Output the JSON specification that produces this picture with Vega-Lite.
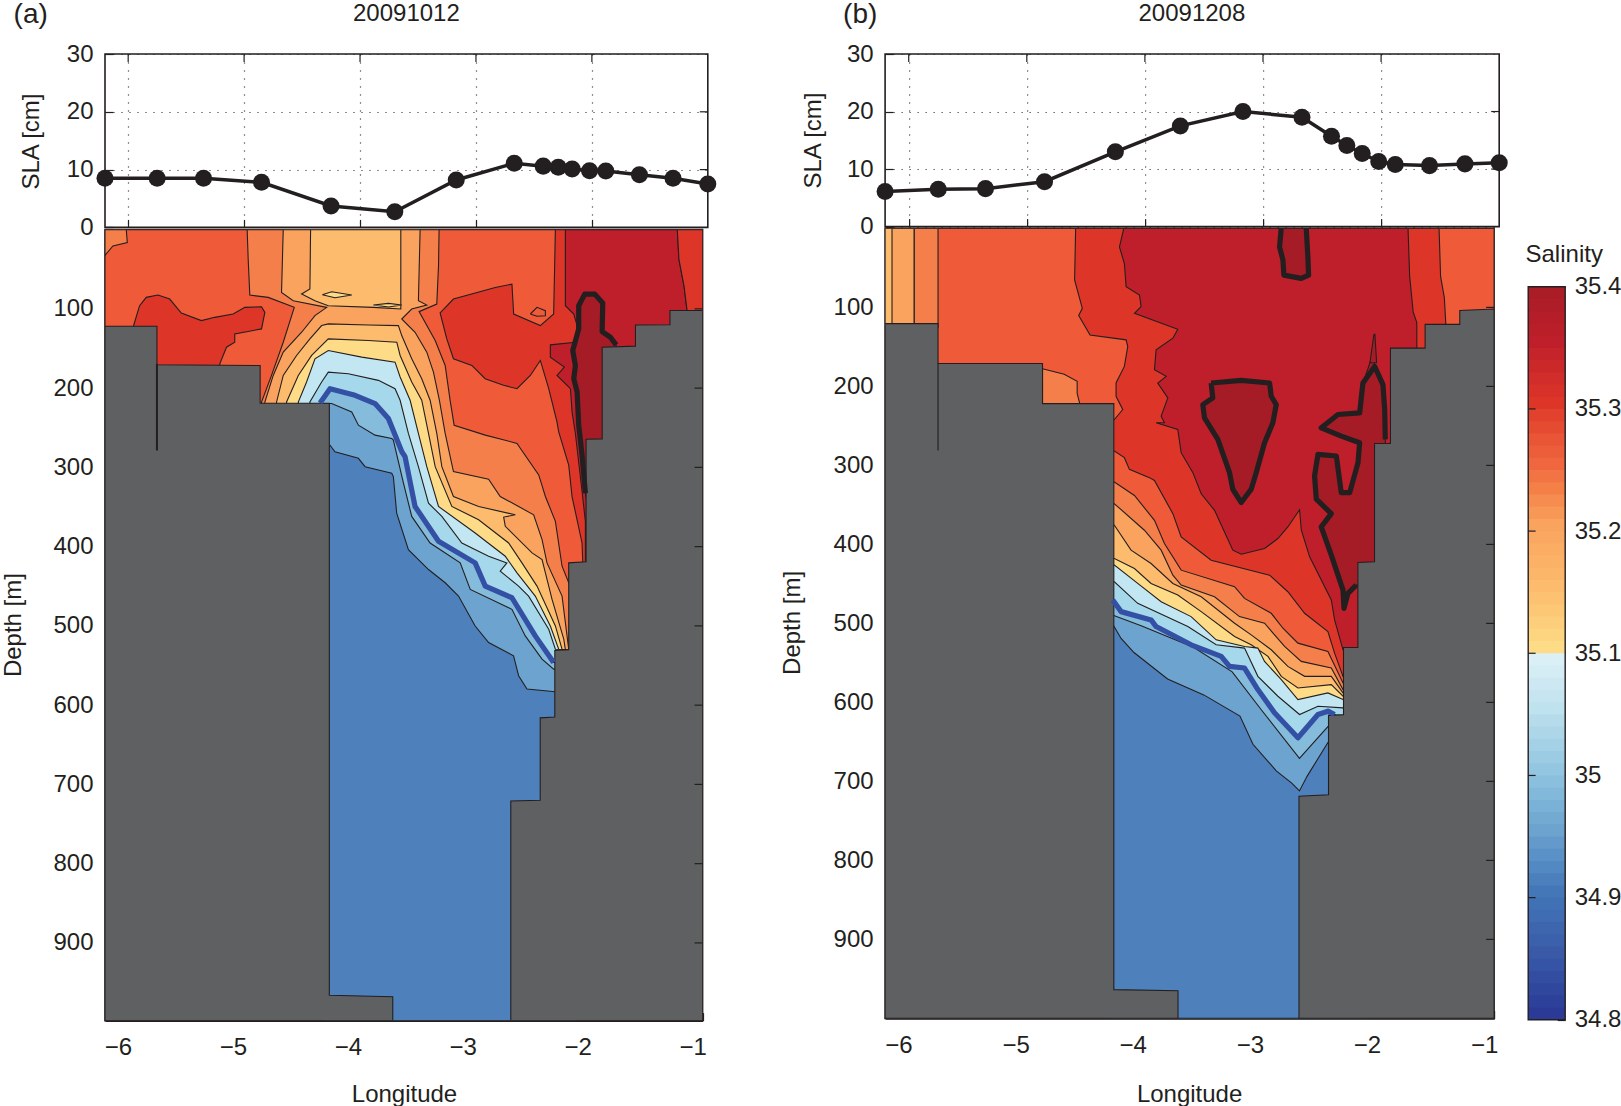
{
"$schema":"https://vega.github.io/schema/vega-lite/v6.json",
"padding":0,
"background":"white",
"bounds":"flush",
"spacing":780.1,
"config":{
 "view":{"stroke":null},
 "font":"Liberation Sans",
 "text":{"font":"Liberation Sans","color":"#231f20"},
 "axis":{"labelFont":"Liberation Sans","titleFont":"Liberation Sans","labelFontSize":24,"titleFontSize":24,"titleFontWeight":"normal","labelColor":"#231f20","titleColor":"#231f20","tickColor":"#231f20","domainColor":"#231f20","tickSize":-8,"tickWidth":1.2,"domainWidth":1.6,"grid":false,"labelOverlap":false,"labelBound":false,"labelFlush":false,"zindex":1,"titleBaseline":"middle","titleAlign":"center"}
},
"datasets":{
"depth_ticks":[{"depth":100},{"depth":200},{"depth":300},{"depth":400},{"depth":500},{"depth":600},{"depth":700},{"depth":800},{"depth":900}],
"sla_ticks":[{"sla":10},{"sla":20}],
"lon_ticks":[{"lon":-6},{"lon":-5},{"lon":-4},{"lon":-3},{"lon":-2}],
"bar_ticks":[{"s":34.9},{"s":35},{"s":35.1},{"s":35.2},{"s":35.3}],
"sla_a":[{"lon":-6.2,"sla":8.5},{"lon":-5.75,"sla":8.5},{"lon":-5.35,"sla":8.5},{"lon":-4.85,"sla":7.8},{"lon":-4.25,"sla":3.7},{"lon":-3.7,"sla":2.7},{"lon":-3.17,"sla":8.2},{"lon":-2.67,"sla":11.1},{"lon":-2.42,"sla":10.6},{"lon":-2.29,"sla":10.4},{"lon":-2.17,"sla":10.1},{"lon":-2.02,"sla":9.8},{"lon":-1.88,"sla":9.75},{"lon":-1.59,"sla":9.1},{"lon":-1.3,"sla":8.5},{"lon":-1,"sla":7.5}],
"sla_b":[{"lon":-6.2,"sla":6.1},{"lon":-5.75,"sla":6.5},{"lon":-5.35,"sla":6.6},{"lon":-4.85,"sla":7.8},{"lon":-4.25,"sla":13},{"lon":-3.7,"sla":17.5},{"lon":-3.17,"sla":20},{"lon":-2.67,"sla":19},{"lon":-2.42,"sla":15.7},{"lon":-2.29,"sla":14.1},{"lon":-2.16,"sla":12.7},{"lon":-2.02,"sla":11.3},{"lon":-1.88,"sla":10.8},{"lon":-1.59,"sla":10.6},{"lon":-1.29,"sla":10.9},{"lon":-1,"sla":11.1}],
"sec_a":[
{"poly":"box","lon":-6.2,"depth":0},{"poly":"box","lon":-1,"depth":0},{"poly":"box","lon":-1,"depth":998},{"poly":"box","lon":-6.2,"depth":998},{"poly":"box","lon":-6.2,"depth":0},
{"poly":"corner","lon":-6.2,"depth":0},{"poly":"corner","lon":-6.015,"depth":0},{"poly":"corner","lon":-6.006,"depth":16.4},{"poly":"corner","lon":-6.131,"depth":20.6},{"poly":"corner","lon":-6.2,"depth":32.4},{"poly":"corner","lon":-6.2,"depth":0},
{"poly":"blob1","lon":-5.951,"depth":121},{"poly":"blob1","lon":-5.899,"depth":96},{"poly":"blob1","lon":-5.841,"depth":85.5},{"poly":"blob1","lon":-5.739,"depth":82.6},{"poly":"blob1","lon":-5.637,"depth":87.6},{"poly":"blob1","lon":-5.536,"depth":105.2},{"poly":"blob1","lon":-5.361,"depth":114.8},{"poly":"blob1","lon":-5.245,"depth":110.7},{"poly":"blob1","lon":-5.085,"depth":106.5},{"poly":"blob1","lon":-4.983,"depth":98.1},{"poly":"blob1","lon":-4.838,"depth":97.3},{"poly":"blob1","lon":-4.809,"depth":104.4},{"poly":"blob1","lon":-4.838,"depth":125.3},{"poly":"blob1","lon":-5.071,"depth":131.6},{"poly":"blob1","lon":-5.071,"depth":142.1},{"poly":"blob1","lon":-5.143,"depth":148.4},{"poly":"blob1","lon":-5.201,"depth":169.3},{"poly":"blob1","lon":-5.201,"depth":180},{"poly":"blob1","lon":-5.951,"depth":180},{"poly":"blob1","lon":-5.951,"depth":121},
{"poly":"dd2","lon":-2.281,"depth":0},{"poly":"dd2","lon":-2.296,"depth":106.5},{"poly":"dd2","lon":-2.412,"depth":121.1},{"poly":"dd2","lon":-2.644,"depth":106.5},{"poly":"dd2","lon":-2.659,"depth":68.8},{"poly":"dd2","lon":-2.804,"depth":73},{"poly":"dd2","lon":-3.168,"depth":87.6},{"poly":"dd2","lon":-3.284,"depth":105.2},{"poly":"dd2","lon":-3.226,"depth":137.9},{"poly":"dd2","lon":-3.168,"depth":163},{"poly":"dd2","lon":-3.008,"depth":171.4},{"poly":"dd2","lon":-2.892,"depth":188.1},{"poly":"dd2","lon":-2.732,"depth":196.5},{"poly":"dd2","lon":-2.615,"depth":200.7},{"poly":"dd2","lon":-2.499,"depth":184},{"poly":"dd2","lon":-2.412,"depth":165.1},{"poly":"dd2","lon":-2.339,"depth":200.7},{"poly":"dd2","lon":-2.267,"depth":242.6},{"poly":"dd2","lon":-2.252,"depth":255.2},{"poly":"dd2","lon":-2.165,"depth":297},{"poly":"dd2","lon":-2.136,"depth":336.8},{"poly":"dd2","lon":-2.049,"depth":395.4},{"poly":"dd2","lon":-2.043,"depth":418.4},{"poly":"dd2","lon":-2.043,"depth":425},{"poly":"dd2","lon":-1.9,"depth":425},{"poly":"dd2","lon":-1.9,"depth":0},{"poly":"dd2","lon":-2.281,"depth":0},
{"poly":"spot1","lon":-2.499,"depth":106.5},{"poly":"spot1","lon":-2.441,"depth":98.1},{"poly":"spot1","lon":-2.368,"depth":102.3},{"poly":"spot1","lon":-2.368,"depth":108.6},{"poly":"spot1","lon":-2.441,"depth":109.4},{"poly":"spot1","lon":-2.499,"depth":106.5},
{"poly":"bf1","lon":-2.194,"depth":0},{"poly":"bf1","lon":-2.194,"depth":96},{"poly":"bf1","lon":-2.121,"depth":106.5},{"poly":"bf1","lon":-2.092,"depth":121.1},{"poly":"bf1","lon":-2.107,"depth":142.1},{"poly":"bf1","lon":-2.325,"depth":145.4},{"poly":"bf1","lon":-2.325,"depth":161},{"poly":"bf1","lon":-2.203,"depth":173.5},{"poly":"bf1","lon":-2.267,"depth":184},{"poly":"bf1","lon":-2.15,"depth":200.7},{"poly":"bf1","lon":-2.136,"depth":230},{"poly":"bf1","lon":-2.107,"depth":257.3},{"poly":"bf1","lon":-2.049,"depth":330.5},{"poly":"bf1","lon":-2.02,"depth":368.2},{"poly":"bf1","lon":-2.02,"depth":425},{"poly":"bf1","lon":-1.133,"depth":425},{"poly":"bf1","lon":-1.133,"depth":104.4},{"poly":"bf1","lon":-1.162,"depth":70.9},{"poly":"bf1","lon":-1.206,"depth":37.4},{"poly":"bf1","lon":-1.22,"depth":0},{"poly":"bf1","lon":-2.194,"depth":0},
{"poly":"dd3","lon":-1.22,"depth":0},{"poly":"dd3","lon":-1.206,"depth":37.4},{"poly":"dd3","lon":-1.162,"depth":70.9},{"poly":"dd3","lon":-1.133,"depth":104.4},{"poly":"dd3","lon":-1,"depth":104.4},{"poly":"dd3","lon":-1,"depth":0},{"poly":"dd3","lon":-1.22,"depth":0},
{"poly":"dark1","lon":-2.026,"depth":81.4},{"poly":"dark1","lon":-1.938,"depth":81.4},{"poly":"dark1","lon":-1.869,"depth":92.7},{"poly":"dark1","lon":-1.874,"depth":128.7},{"poly":"dark1","lon":-1.802,"depth":135.8},{"poly":"dark1","lon":-1.752,"depth":145.4},{"poly":"dark1","lon":-1.752,"depth":150},{"poly":"dark1","lon":-1.86,"depth":150},{"poly":"dark1","lon":-1.86,"depth":270},{"poly":"dark1","lon":-2.005,"depth":270},{"poly":"dark1","lon":-2.005,"depth":345},{"poly":"dark1","lon":-2.02,"depth":332.6},{"poly":"dark1","lon":-2.049,"depth":284.5},{"poly":"dark1","lon":-2.078,"depth":246.8},{"poly":"dark1","lon":-2.092,"depth":204.9},{"poly":"dark1","lon":-2.121,"depth":188.1},{"poly":"dark1","lon":-2.107,"depth":171.4},{"poly":"dark1","lon":-2.13,"depth":152.5},{"poly":"dark1","lon":-2.078,"depth":125.3},{"poly":"dark1","lon":-2.078,"depth":96},{"poly":"dark1","lon":-2.026,"depth":81.4},
{"poly":"p1","lon":-4.963,"depth":0},{"poly":"p1","lon":-4.954,"depth":37.4},{"poly":"p1","lon":-4.94,"depth":82.6},{"poly":"p1","lon":-4.78,"depth":85.5},{"poly":"p1","lon":-4.553,"depth":98.1},{"poly":"p1","lon":-4.649,"depth":142.1},{"poly":"p1","lon":-4.751,"depth":184},{"poly":"p1","lon":-4.838,"depth":217.5},{"poly":"p1","lon":-4.838,"depth":225},{"poly":"p1","lon":-4.3,"depth":225},{"poly":"p1","lon":-4.3,"depth":998},{"poly":"p1","lon":-2.1,"depth":998},{"poly":"p1","lon":-2.1,"depth":445.6},{"poly":"p1","lon":-2.165,"depth":445.6},{"poly":"p1","lon":-2.223,"depth":424.7},{"poly":"p1","lon":-2.281,"depth":368.1},{"poly":"p1","lon":-2.368,"depth":336.7},{"poly":"p1","lon":-2.426,"depth":309.5},{"poly":"p1","lon":-2.615,"depth":269.7},{"poly":"p1","lon":-2.891,"depth":259.3},{"poly":"p1","lon":-3.162,"depth":246.8},{"poly":"p1","lon":-3.197,"depth":215.4},{"poly":"p1","lon":-3.24,"depth":171.4},{"poly":"p1","lon":-3.327,"depth":140},{"poly":"p1","lon":-3.467,"depth":103.5},{"poly":"p1","lon":-3.313,"depth":94},{"poly":"p1","lon":-3.298,"depth":45.8},{"poly":"p1","lon":-3.293,"depth":0},{"poly":"p1","lon":-4.963,"depth":0},
{"poly":"p2","lon":-4.649,"depth":0},{"poly":"p2","lon":-4.664,"depth":79.3},{"poly":"p2","lon":-4.562,"depth":89.7},{"poly":"p2","lon":-4.271,"depth":98.1},{"poly":"p2","lon":-4.373,"depth":108.6},{"poly":"p2","lon":-4.489,"depth":129.5},{"poly":"p2","lon":-4.649,"depth":154.6},{"poly":"p2","lon":-4.736,"depth":184},{"poly":"p2","lon":-4.809,"depth":217.5},{"poly":"p2","lon":-4.809,"depth":225},{"poly":"p2","lon":-4.3,"depth":225},{"poly":"p2","lon":-4.3,"depth":998},{"poly":"p2","lon":-2.1,"depth":998},{"poly":"p2","lon":-2.1,"depth":529.4},{"poly":"p2","lon":-2.165,"depth":529.4},{"poly":"p2","lon":-2.223,"depth":462.4},{"poly":"p2","lon":-2.354,"depth":420.5},{"poly":"p2","lon":-2.397,"depth":391.2},{"poly":"p2","lon":-2.47,"depth":359.8},{"poly":"p2","lon":-2.761,"depth":336.7},{"poly":"p2","lon":-2.862,"depth":315},{"poly":"p2","lon":-3.168,"depth":305.4},{"poly":"p2","lon":-3.24,"depth":257.2},{"poly":"p2","lon":-3.29,"depth":215.4},{"poly":"p2","lon":-3.342,"depth":179.8},{"poly":"p2","lon":-3.4,"depth":154.6},{"poly":"p2","lon":-3.502,"depth":129.5},{"poly":"p2","lon":-3.618,"depth":112.8},{"poly":"p2","lon":-3.531,"depth":100.2},{"poly":"p2","lon":-3.4,"depth":95.2},{"poly":"p2","lon":-3.473,"depth":89.7},{"poly":"p2","lon":-3.458,"depth":0},{"poly":"p2","lon":-4.649,"depth":0},
{"poly":"col","lon":-4.411,"depth":0},{"poly":"col","lon":-4.417,"depth":75},{"poly":"col","lon":-4.489,"depth":81.3},{"poly":"col","lon":-4.373,"depth":89.7},{"poly":"col","lon":-4.257,"depth":96},{"poly":"col","lon":-3.865,"depth":98.1},{"poly":"col","lon":-3.626,"depth":100.2},{"poly":"col","lon":-3.626,"depth":0},{"poly":"col","lon":-4.411,"depth":0},
{"poly":"ys1","lon":-4.309,"depth":82.2},{"poly":"ys1","lon":-4.228,"depth":78.4},{"poly":"ys1","lon":-4.053,"depth":82.6},{"poly":"ys1","lon":-4.199,"depth":86},{"poly":"ys1","lon":-4.309,"depth":82.2},
{"poly":"ys2","lon":-3.865,"depth":95.2},{"poly":"ys2","lon":-3.733,"depth":93.1},{"poly":"ys2","lon":-3.618,"depth":95.2},{"poly":"ys2","lon":-3.733,"depth":97.7},{"poly":"ys2","lon":-3.865,"depth":95.2},
{"poly":"p3","lon":-4.707,"depth":225},{"poly":"p3","lon":-4.707,"depth":217.5},{"poly":"p3","lon":-4.649,"depth":184},{"poly":"p3","lon":-4.533,"depth":158.8},{"poly":"p3","lon":-4.417,"depth":137.9},{"poly":"p3","lon":-4.315,"depth":121.1},{"poly":"p3","lon":-4.257,"depth":119},{"poly":"p3","lon":-3.908,"depth":120.3},{"poly":"p3","lon":-3.647,"depth":121.1},{"poly":"p3","lon":-3.618,"depth":133.7},{"poly":"p3","lon":-3.531,"depth":163},{"poly":"p3","lon":-3.444,"depth":188.1},{"poly":"p3","lon":-3.371,"depth":215.3},{"poly":"p3","lon":-3.313,"depth":257.2},{"poly":"p3","lon":-3.269,"depth":299.1},{"poly":"p3","lon":-3.168,"depth":336.8},{"poly":"p3","lon":-2.949,"depth":349.3},{"poly":"p3","lon":-2.63,"depth":359.8},{"poly":"p3","lon":-2.731,"depth":362.7},{"poly":"p3","lon":-2.717,"depth":374.4},{"poly":"p3","lon":-2.484,"depth":407.9},{"poly":"p3","lon":-2.397,"depth":416.3},{"poly":"p3","lon":-2.31,"depth":466.6},{"poly":"p3","lon":-2.208,"depth":516.8},{"poly":"p3","lon":-2.194,"depth":530},{"poly":"p3","lon":-2.1,"depth":530},{"poly":"p3","lon":-2.1,"depth":998},{"poly":"p3","lon":-4.3,"depth":998},{"poly":"p3","lon":-4.3,"depth":225},{"poly":"p3","lon":-4.707,"depth":225},
{"poly":"p4","lon":-4.62,"depth":225},{"poly":"p4","lon":-4.62,"depth":217.5},{"poly":"p4","lon":-4.518,"depth":184},{"poly":"p4","lon":-4.402,"depth":158.8},{"poly":"p4","lon":-4.257,"depth":137.9},{"poly":"p4","lon":-3.908,"depth":140},{"poly":"p4","lon":-3.661,"depth":142.1},{"poly":"p4","lon":-3.632,"depth":158.8},{"poly":"p4","lon":-3.531,"depth":192.3},{"poly":"p4","lon":-3.444,"depth":215.3},{"poly":"p4","lon":-3.385,"depth":257.2},{"poly":"p4","lon":-3.327,"depth":299.1},{"poly":"p4","lon":-3.182,"depth":349.3},{"poly":"p4","lon":-2.949,"depth":366.1},{"poly":"p4","lon":-2.688,"depth":395.4},{"poly":"p4","lon":-2.572,"depth":420.5},{"poly":"p4","lon":-2.441,"depth":449.8},{"poly":"p4","lon":-2.281,"depth":500.1},{"poly":"p4","lon":-2.223,"depth":529.4},{"poly":"p4","lon":-2.1,"depth":530},{"poly":"p4","lon":-2.1,"depth":998},{"poly":"p4","lon":-4.3,"depth":998},{"poly":"p4","lon":-4.3,"depth":225},{"poly":"p4","lon":-4.62,"depth":225},
{"poly":"p5","lon":-4.518,"depth":225},{"poly":"p5","lon":-4.518,"depth":217.5},{"poly":"p5","lon":-4.446,"depth":192.3},{"poly":"p5","lon":-4.373,"depth":163},{"poly":"p5","lon":-4.257,"depth":152.5},{"poly":"p5","lon":-3.966,"depth":160.9},{"poly":"p5","lon":-3.676,"depth":167.2},{"poly":"p5","lon":-3.632,"depth":186},{"poly":"p5","lon":-3.545,"depth":215.3},{"poly":"p5","lon":-3.473,"depth":257.2},{"poly":"p5","lon":-3.4,"depth":299.1},{"poly":"p5","lon":-3.298,"depth":349.3},{"poly":"p5","lon":-2.979,"depth":382.8},{"poly":"p5","lon":-2.717,"depth":412.1},{"poly":"p5","lon":-2.615,"depth":433.1},{"poly":"p5","lon":-2.456,"depth":462.4},{"poly":"p5","lon":-2.325,"depth":500.1},{"poly":"p5","lon":-2.252,"depth":529.4},{"poly":"p5","lon":-2.1,"depth":530},{"poly":"p5","lon":-2.1,"depth":998},{"poly":"p5","lon":-4.3,"depth":998},{"poly":"p5","lon":-4.3,"depth":225},{"poly":"p5","lon":-4.518,"depth":225},
{"poly":"p6","lon":-4.417,"depth":225},{"poly":"p6","lon":-4.417,"depth":217.5},{"poly":"p6","lon":-4.315,"depth":192.3},{"poly":"p6","lon":-4.257,"depth":179.8},{"poly":"p6","lon":-4.083,"depth":181.9},{"poly":"p6","lon":-3.821,"depth":190.2},{"poly":"p6","lon":-3.676,"depth":200.7},{"poly":"p6","lon":-3.632,"depth":215.3},{"poly":"p6","lon":-3.56,"depth":257.2},{"poly":"p6","lon":-3.473,"depth":299.1},{"poly":"p6","lon":-3.385,"depth":345.1},{"poly":"p6","lon":-3.269,"depth":361.9},{"poly":"p6","lon":-3.095,"depth":395.4},{"poly":"p6","lon":-2.862,"depth":412.1},{"poly":"p6","lon":-2.703,"depth":420.5},{"poly":"p6","lon":-2.761,"depth":431},{"poly":"p6","lon":-2.601,"depth":449.8},{"poly":"p6","lon":-2.514,"depth":462.4},{"poly":"p6","lon":-2.339,"depth":504.3},{"poly":"p6","lon":-2.281,"depth":529.4},{"poly":"p6","lon":-2.1,"depth":530},{"poly":"p6","lon":-2.1,"depth":998},{"poly":"p6","lon":-4.3,"depth":998},{"poly":"p6","lon":-4.3,"depth":225},{"poly":"p6","lon":-4.417,"depth":225},
{"poly":"p7","lon":-4.329,"depth":218.7},{"poly":"p7","lon":-4.242,"depth":200.7},{"poly":"p7","lon":-4.024,"depth":209.1},{"poly":"p7","lon":-3.85,"depth":219.5},{"poly":"p7","lon":-3.734,"depth":238.4},{"poly":"p7","lon":-3.617,"depth":280.3},{"poly":"p7","lon":-3.589,"depth":286.5},{"poly":"p7","lon":-3.502,"depth":349.3},{"poly":"p7","lon":-3.298,"depth":393.3},{"poly":"p7","lon":-2.979,"depth":420.5},{"poly":"p7","lon":-2.891,"depth":449.8},{"poly":"p7","lon":-2.659,"depth":464.5},{"poly":"p7","lon":-2.456,"depth":512.6},{"poly":"p7","lon":-2.296,"depth":546.1},{"poly":"p7","lon":-2.1,"depth":546},{"poly":"p7","lon":-2.1,"depth":998},{"poly":"p7","lon":-4.3,"depth":998},{"poly":"p7","lon":-4.3,"depth":225},{"poly":"p7","lon":-4.329,"depth":218.7},
{"poly":"p8","lon":-4.3,"depth":219.5},{"poly":"p8","lon":-4.228,"depth":219.5},{"poly":"p8","lon":-4.053,"depth":230},{"poly":"p8","lon":-3.995,"depth":246.8},{"poly":"p8","lon":-3.85,"depth":259.3},{"poly":"p8","lon":-3.705,"depth":263.5},{"poly":"p8","lon":-3.691,"depth":265.6},{"poly":"p8","lon":-3.603,"depth":320},{"poly":"p8","lon":-3.531,"depth":361.9},{"poly":"p8","lon":-3.371,"depth":395.4},{"poly":"p8","lon":-3.109,"depth":420.5},{"poly":"p8","lon":-3.022,"depth":454},{"poly":"p8","lon":-2.659,"depth":479.1},{"poly":"p8","lon":-2.543,"depth":512.6},{"poly":"p8","lon":-2.397,"depth":542},{"poly":"p8","lon":-2.296,"depth":554.5},{"poly":"p8","lon":-2.1,"depth":554.5},{"poly":"p8","lon":-2.1,"depth":998},{"poly":"p8","lon":-4.3,"depth":998},{"poly":"p8","lon":-4.3,"depth":219.5},
{"poly":"p9","lon":-4.3,"depth":272},{"poly":"p9","lon":-4.242,"depth":272},{"poly":"p9","lon":-4.199,"depth":280.3},{"poly":"p9","lon":-3.995,"depth":288.6},{"poly":"p9","lon":-3.937,"depth":299.1},{"poly":"p9","lon":-3.705,"depth":307.5},{"poly":"p9","lon":-3.691,"depth":311.6},{"poly":"p9","lon":-3.662,"depth":357.7},{"poly":"p9","lon":-3.56,"depth":403.8},{"poly":"p9","lon":-3.385,"depth":428.9},{"poly":"p9","lon":-3.24,"depth":445.6},{"poly":"p9","lon":-3.124,"depth":462.4},{"poly":"p9","lon":-2.979,"depth":500.1},{"poly":"p9","lon":-2.862,"depth":521},{"poly":"p9","lon":-2.645,"depth":537.8},{"poly":"p9","lon":-2.601,"depth":562.9},{"poly":"p9","lon":-2.528,"depth":579.6},{"poly":"p9","lon":-2.281,"depth":583},{"poly":"p9","lon":-2.1,"depth":583},{"poly":"p9","lon":-2.1,"depth":998},{"poly":"p9","lon":-4.3,"depth":998},{"poly":"p9","lon":-4.3,"depth":272},
{"poly":"landl","lon":-6.2,"depth":122},{"poly":"landl","lon":-5.748,"depth":122},{"poly":"landl","lon":-5.748,"depth":170.5},{"poly":"landl","lon":-4.85,"depth":171.5},{"poly":"landl","lon":-4.85,"depth":219},{"poly":"landl","lon":-4.248,"depth":219},{"poly":"landl","lon":-4.248,"depth":966},{"poly":"landl","lon":-3.696,"depth":968},{"poly":"landl","lon":-3.696,"depth":998},{"poly":"landl","lon":-6.2,"depth":998},{"poly":"landl","lon":-6.2,"depth":122},
{"poly":"landr","lon":-2.669,"depth":998},{"poly":"landr","lon":-2.669,"depth":721},{"poly":"landr","lon":-2.413,"depth":720},{"poly":"landr","lon":-2.413,"depth":616},{"poly":"landr","lon":-2.286,"depth":615},{"poly":"landr","lon":-2.286,"depth":531},{"poly":"landr","lon":-2.165,"depth":530},{"poly":"landr","lon":-2.165,"depth":420.5},{"poly":"landr","lon":-2.014,"depth":419},{"poly":"landr","lon":-2.014,"depth":264.5},{"poly":"landr","lon":-1.874,"depth":264},{"poly":"landr","lon":-1.874,"depth":148.4},{"poly":"landr","lon":-1.584,"depth":147},{"poly":"landr","lon":-1.584,"depth":120.3},{"poly":"landr","lon":-1.284,"depth":120},{"poly":"landr","lon":-1.284,"depth":102},{"poly":"landr","lon":-1,"depth":102},{"poly":"landr","lon":-1,"depth":998},{"poly":"landr","lon":-2.669,"depth":998},
{"poly":"spike","lon":-5.752,"depth":170},{"poly":"spike","lon":-5.744,"depth":170},{"poly":"spike","lon":-5.744,"depth":278},{"poly":"spike","lon":-5.752,"depth":278},{"poly":"spike","lon":-5.752,"depth":170}
],
"iso_a":[
{"seg":"blue","lon":-4.329,"depth":218.7},{"seg":"blue","lon":-4.242,"depth":200.7},{"seg":"blue","lon":-4.024,"depth":209.1},{"seg":"blue","lon":-3.85,"depth":219.5},{"seg":"blue","lon":-3.734,"depth":238.4},{"seg":"blue","lon":-3.617,"depth":280.3},{"seg":"blue","lon":-3.589,"depth":286.5},{"seg":"blue","lon":-3.502,"depth":349.3},{"seg":"blue","lon":-3.298,"depth":393.3},{"seg":"blue","lon":-2.979,"depth":420.5},{"seg":"blue","lon":-2.891,"depth":449.8},{"seg":"blue","lon":-2.659,"depth":464.5},{"seg":"blue","lon":-2.456,"depth":512.6},{"seg":"blue","lon":-2.296,"depth":546.1},
{"seg":"black1","lon":-1.752,"depth":145.4},{"seg":"black1","lon":-1.802,"depth":135.8},{"seg":"black1","lon":-1.874,"depth":128.7},{"seg":"black1","lon":-1.869,"depth":92.7},{"seg":"black1","lon":-1.938,"depth":81.4},{"seg":"black1","lon":-2.026,"depth":81.4},{"seg":"black1","lon":-2.078,"depth":96},{"seg":"black1","lon":-2.078,"depth":125.3},{"seg":"black1","lon":-2.13,"depth":152.5},{"seg":"black1","lon":-2.107,"depth":171.4},{"seg":"black1","lon":-2.121,"depth":188.1},{"seg":"black1","lon":-2.092,"depth":204.9},{"seg":"black1","lon":-2.078,"depth":246.8},{"seg":"black1","lon":-2.049,"depth":284.5},{"seg":"black1","lon":-2.02,"depth":332.6}
],
"sec_b":[
{"poly":"box","lon":-6.2,"depth":0},{"poly":"box","lon":-1,"depth":0},{"poly":"box","lon":-1,"depth":1000},{"poly":"box","lon":-6.2,"depth":1000},{"poly":"box","lon":-6.2,"depth":0},
{"poly":"col1","lon":-6.2,"depth":0},{"poly":"col1","lon":-5.951,"depth":0},{"poly":"col1","lon":-5.951,"depth":125},{"poly":"col1","lon":-6.2,"depth":125},{"poly":"col1","lon":-6.2,"depth":0},
{"poly":"col0","lon":-6.2,"depth":0},{"poly":"col0","lon":-6.141,"depth":0},{"poly":"col0","lon":-6.141,"depth":125},{"poly":"col0","lon":-6.2,"depth":125},{"poly":"col0","lon":-6.2,"depth":0},
{"poly":"col2","lon":-5.951,"depth":0},{"poly":"col2","lon":-5.748,"depth":0},{"poly":"col2","lon":-5.748,"depth":125},{"poly":"col2","lon":-5.951,"depth":125},{"poly":"col2","lon":-5.951,"depth":0},
{"poly":"spotb","lon":-4.856,"depth":177.7},{"poly":"spotb","lon":-4.671,"depth":184.5},{"poly":"spotb","lon":-4.56,"depth":193.5},{"poly":"spotb","lon":-4.56,"depth":209},{"poly":"spotb","lon":-4.538,"depth":221.8},{"poly":"spotb","lon":-4.538,"depth":230},{"poly":"spotb","lon":-4.856,"depth":230},{"poly":"spotb","lon":-4.856,"depth":177.7},
{"poly":"ddb","lon":-4.573,"depth":0},{"poly":"ddb","lon":-4.582,"depth":65.2},{"poly":"ddb","lon":-4.516,"depth":101.2},{"poly":"ddb","lon":-4.547,"depth":110.2},{"poly":"ddb","lon":-4.45,"depth":135},{"poly":"ddb","lon":-4.142,"depth":141.1},{"poly":"ddb","lon":-4.128,"depth":149.5},{"poly":"ddb","lon":-4.157,"depth":174.7},{"poly":"ddb","lon":-4.228,"depth":195.7},{"poly":"ddb","lon":-4.228,"depth":212.5},{"poly":"ddb","lon":-4.171,"depth":229.3},{"poly":"ddb","lon":-4.242,"depth":241.9},{"poly":"ddb","lon":-4.3,"depth":241.9},{"poly":"ddb","lon":-4.3,"depth":281.8},{"poly":"ddb","lon":-4.242,"depth":281.8},{"poly":"ddb","lon":-4.157,"depth":290.2},{"poly":"ddb","lon":-4.114,"depth":305},{"poly":"ddb","lon":-3.943,"depth":315.5},{"poly":"ddb","lon":-3.9,"depth":319.1},{"poly":"ddb","lon":-3.743,"depth":361.1},{"poly":"ddb","lon":-3.672,"depth":390.5},{"poly":"ddb","lon":-3.416,"depth":420},{"poly":"ddb","lon":-2.917,"depth":438.9},{"poly":"ddb","lon":-2.761,"depth":459.9},{"poly":"ddb","lon":-2.618,"depth":487.2},{"poly":"ddb","lon":-2.419,"depth":510.3},{"poly":"ddb","lon":-2.362,"depth":537.6},{"poly":"ddb","lon":-2.29,"depth":567},{"poly":"ddb","lon":-2.1,"depth":567},{"poly":"ddb","lon":-1.412,"depth":567},{"poly":"ddb","lon":-1.412,"depth":121.5},{"poly":"ddb","lon":-1.425,"depth":87.7},{"poly":"ddb","lon":-1.457,"depth":60.7},{"poly":"ddb","lon":-1.47,"depth":0},{"poly":"ddb","lon":-4.573,"depth":0},
{"poly":"bfb","lon":-4.162,"depth":0},{"poly":"bfb","lon":-4.199,"depth":23.4},{"poly":"bfb","lon":-4.157,"depth":44.4},{"poly":"bfb","lon":-4.142,"depth":73.8},{"poly":"bfb","lon":-4.028,"depth":84.3},{"poly":"bfb","lon":-4.014,"depth":99},{"poly":"bfb","lon":-4.071,"depth":107.5},{"poly":"bfb","lon":-3.701,"depth":127.6},{"poly":"bfb","lon":-3.743,"depth":139},{"poly":"bfb","lon":-3.886,"depth":153.7},{"poly":"bfb","lon":-3.9,"depth":178.9},{"poly":"bfb","lon":-3.8,"depth":187.3},{"poly":"bfb","lon":-3.872,"depth":195.7},{"poly":"bfb","lon":-3.786,"depth":214.6},{"poly":"bfb","lon":-3.843,"depth":237.7},{"poly":"bfb","lon":-3.815,"depth":246.1},{"poly":"bfb","lon":-3.886,"depth":246.1},{"poly":"bfb","lon":-3.701,"depth":254.5},{"poly":"bfb","lon":-3.672,"depth":283.9},{"poly":"bfb","lon":-3.572,"depth":309.2},{"poly":"bfb","lon":-3.501,"depth":335.9},{"poly":"bfb","lon":-3.387,"depth":356.9},{"poly":"bfb","lon":-3.231,"depth":407.3},{"poly":"bfb","lon":-3.159,"depth":412.4},{"poly":"bfb","lon":-2.96,"depth":405.2},{"poly":"bfb","lon":-2.846,"depth":392.6},{"poly":"bfb","lon":-2.761,"depth":377.9},{"poly":"bfb","lon":-2.661,"depth":356.1},{"poly":"bfb","lon":-2.646,"depth":382.1},{"poly":"bfb","lon":-2.575,"depth":415.7},{"poly":"bfb","lon":-2.39,"depth":470.4},{"poly":"bfb","lon":-2.362,"depth":495.6},{"poly":"bfb","lon":-2.29,"depth":533.4},{"poly":"bfb","lon":-2.1,"depth":540},{"poly":"bfb","lon":-1.66,"depth":540},{"poly":"bfb","lon":-1.66,"depth":119.2},{"poly":"bfb","lon":-1.691,"depth":105.7},{"poly":"bfb","lon":-1.721,"depth":60.7},{"poly":"bfb","lon":-1.735,"depth":0},{"poly":"bfb","lon":-4.162,"depth":0},
{"poly":"d1","lon":-2.818,"depth":0},{"poly":"d1","lon":-2.832,"depth":23.4},{"poly":"d1","lon":-2.803,"depth":40.2},{"poly":"d1","lon":-2.795,"depth":59.1},{"poly":"d1","lon":-2.647,"depth":63.3},{"poly":"d1","lon":-2.584,"depth":59.1},{"poly":"d1","lon":-2.59,"depth":36},{"poly":"d1","lon":-2.604,"depth":0},{"poly":"d1","lon":-2.818,"depth":0},
{"poly":"d2","lon":-3.416,"depth":195.7},{"poly":"d2","lon":-3.16,"depth":192.3},{"poly":"d2","lon":-2.917,"depth":195.7},{"poly":"d2","lon":-2.903,"depth":212.5},{"poly":"d2","lon":-2.86,"depth":223},{"poly":"d2","lon":-2.889,"depth":246.1},{"poly":"d2","lon":-2.96,"depth":271.3},{"poly":"d2","lon":-3.031,"depth":309.2},{"poly":"d2","lon":-3.074,"depth":330.2},{"poly":"d2","lon":-3.159,"depth":347},{"poly":"d2","lon":-3.231,"depth":330.2},{"poly":"d2","lon":-3.259,"depth":309.2},{"poly":"d2","lon":-3.359,"depth":267.1},{"poly":"d2","lon":-3.473,"depth":239.8},{"poly":"d2","lon":-3.487,"depth":223},{"poly":"d2","lon":-3.402,"depth":214.6},{"poly":"d2","lon":-3.416,"depth":195.7},
{"poly":"d3","lon":-2.026,"depth":155.8},{"poly":"d3","lon":-2.02,"depth":174.7},{"poly":"d3","lon":-1.949,"depth":197.8},{"poly":"d3","lon":-1.934,"depth":229.3},{"poly":"d3","lon":-1.929,"depth":267.1},{"poly":"d3","lon":-1.929,"depth":275},{"poly":"d3","lon":-2,"depth":275},{"poly":"d3","lon":-2,"depth":430},{"poly":"d3","lon":-2.1,"depth":430},{"poly":"d3","lon":-2.1,"depth":451.5},{"poly":"d3","lon":-2.177,"depth":451.5},{"poly":"d3","lon":-2.248,"depth":462},{"poly":"d3","lon":-2.282,"depth":480.9},{"poly":"d3","lon":-2.29,"depth":457.8},{"poly":"d3","lon":-2.39,"depth":413.6},{"poly":"d3","lon":-2.476,"depth":377.9},{"poly":"d3","lon":-2.39,"depth":361.1},{"poly":"d3","lon":-2.518,"depth":342.8},{"poly":"d3","lon":-2.533,"depth":313.4},{"poly":"d3","lon":-2.504,"depth":286},{"poly":"d3","lon":-2.347,"depth":288.1},{"poly":"d3","lon":-2.305,"depth":334.4},{"poly":"d3","lon":-2.233,"depth":334.4},{"poly":"d3","lon":-2.162,"depth":296.5},{"poly":"d3","lon":-2.148,"depth":271.3},{"poly":"d3","lon":-2.305,"depth":263},{"poly":"d3","lon":-2.476,"depth":252.4},{"poly":"d3","lon":-2.333,"depth":235.6},{"poly":"d3","lon":-2.148,"depth":233.5},{"poly":"d3","lon":-2.12,"depth":195.7},{"poly":"d3","lon":-2.026,"depth":155.8},
{"poly":"tip","lon":-2.026,"depth":134},{"poly":"tip","lon":-2.018,"depth":134},{"poly":"tip","lon":-2.003,"depth":170},{"poly":"tip","lon":-2.06,"depth":170},{"poly":"tip","lon":-2.026,"depth":134},
{"poly":"b1","lon":-4.3,"depth":321.2},{"poly":"b1","lon":-4.242,"depth":321.2},{"poly":"b1","lon":-4.071,"depth":338},{"poly":"b1","lon":-3.9,"depth":369.5},{"poly":"b1","lon":-3.815,"depth":398.9},{"poly":"b1","lon":-3.672,"depth":432.6},{"poly":"b1","lon":-3.216,"depth":453.6},{"poly":"b1","lon":-3.131,"depth":468.3},{"poly":"b1","lon":-2.903,"depth":487.2},{"poly":"b1","lon":-2.803,"depth":506.1},{"poly":"b1","lon":-2.675,"depth":525},{"poly":"b1","lon":-2.419,"depth":535.5},{"poly":"b1","lon":-2.29,"depth":575.4},{"poly":"b1","lon":-2.1,"depth":575.4},{"poly":"b1","lon":-2.1,"depth":1000},{"poly":"b1","lon":-4.3,"depth":1000},{"poly":"b1","lon":-4.3,"depth":321.2},
{"poly":"b2","lon":-4.3,"depth":348.5},{"poly":"b2","lon":-4.242,"depth":348.5},{"poly":"b2","lon":-3.986,"depth":382.1},{"poly":"b2","lon":-3.843,"depth":407.3},{"poly":"b2","lon":-3.743,"depth":438.9},{"poly":"b2","lon":-3.672,"depth":451.5},{"poly":"b2","lon":-3.387,"depth":466.2},{"poly":"b2","lon":-3.174,"depth":491.4},{"poly":"b2","lon":-2.96,"depth":499.8},{"poly":"b2","lon":-2.789,"depth":529.2},{"poly":"b2","lon":-2.647,"depth":548.1},{"poly":"b2","lon":-2.39,"depth":556.5},{"poly":"b2","lon":-2.29,"depth":583.8},{"poly":"b2","lon":-2.1,"depth":583.8},{"poly":"b2","lon":-2.1,"depth":1000},{"poly":"b2","lon":-4.3,"depth":1000},{"poly":"b2","lon":-4.3,"depth":348.5},
{"poly":"b3","lon":-4.3,"depth":375.8},{"poly":"b3","lon":-4.242,"depth":375.8},{"poly":"b3","lon":-4.1,"depth":407.3},{"poly":"b3","lon":-3.929,"depth":424.2},{"poly":"b3","lon":-3.743,"depth":449.4},{"poly":"b3","lon":-3.501,"depth":466.2},{"poly":"b3","lon":-3.216,"depth":499.8},{"poly":"b3","lon":-3.074,"depth":514.5},{"poly":"b3","lon":-2.903,"depth":533.4},{"poly":"b3","lon":-2.761,"depth":554.4},{"poly":"b3","lon":-2.618,"depth":567},{"poly":"b3","lon":-2.39,"depth":567},{"poly":"b3","lon":-2.29,"depth":588},{"poly":"b3","lon":-2.1,"depth":588},{"poly":"b3","lon":-2.1,"depth":1000},{"poly":"b3","lon":-4.3,"depth":1000},{"poly":"b3","lon":-4.3,"depth":375.8},
{"poly":"b4","lon":-4.3,"depth":417.8},{"poly":"b4","lon":-4.242,"depth":417.8},{"poly":"b4","lon":-4.071,"depth":430.5},{"poly":"b4","lon":-3.929,"depth":449.4},{"poly":"b4","lon":-3.701,"depth":464.1},{"poly":"b4","lon":-3.501,"depth":485.1},{"poly":"b4","lon":-3.216,"depth":516.6},{"poly":"b4","lon":-3.074,"depth":527.1},{"poly":"b4","lon":-2.931,"depth":541.8},{"poly":"b4","lon":-2.817,"depth":567},{"poly":"b4","lon":-2.675,"depth":581.7},{"poly":"b4","lon":-2.39,"depth":577.5},{"poly":"b4","lon":-2.29,"depth":592.2},{"poly":"b4","lon":-2.1,"depth":592.2},{"poly":"b4","lon":-2.1,"depth":1000},{"poly":"b4","lon":-4.3,"depth":1000},{"poly":"b4","lon":-4.3,"depth":417.8},
{"poly":"b5","lon":-4.3,"depth":426.2},{"poly":"b5","lon":-4.242,"depth":426.2},{"poly":"b5","lon":-4.043,"depth":449.4},{"poly":"b5","lon":-3.843,"depth":472.5},{"poly":"b5","lon":-3.587,"depth":491.4},{"poly":"b5","lon":-3.373,"depth":520.8},{"poly":"b5","lon":-3.131,"depth":529.2},{"poly":"b5","lon":-3.017,"depth":531.3},{"poly":"b5","lon":-2.96,"depth":548.1},{"poly":"b5","lon":-2.817,"depth":571.2},{"poly":"b5","lon":-2.675,"depth":596.4},{"poly":"b5","lon":-2.419,"depth":588},{"poly":"b5","lon":-2.29,"depth":596.4},{"poly":"b5","lon":-2.1,"depth":596.4},{"poly":"b5","lon":-2.1,"depth":1000},{"poly":"b5","lon":-4.3,"depth":1000},{"poly":"b5","lon":-4.3,"depth":426.2},
{"poly":"b6","lon":-4.3,"depth":447.3},{"poly":"b6","lon":-4.242,"depth":447.3},{"poly":"b6","lon":-4.043,"depth":474.6},{"poly":"b6","lon":-3.615,"depth":504},{"poly":"b6","lon":-3.373,"depth":527.1},{"poly":"b6","lon":-3.131,"depth":531.3},{"poly":"b6","lon":-3.017,"depth":567},{"poly":"b6","lon":-2.846,"depth":592.2},{"poly":"b6","lon":-2.661,"depth":615.3},{"poly":"b6","lon":-2.504,"depth":604.8},{"poly":"b6","lon":-2.29,"depth":606.9},{"poly":"b6","lon":-2.1,"depth":606.9},{"poly":"b6","lon":-2.1,"depth":1000},{"poly":"b6","lon":-4.3,"depth":1000},{"poly":"b6","lon":-4.3,"depth":447.3},
{"poly":"b7","lon":-4.3,"depth":470.4},{"poly":"b7","lon":-4.256,"depth":470.4},{"poly":"b7","lon":-4.185,"depth":485.1},{"poly":"b7","lon":-3.929,"depth":495.6},{"poly":"b7","lon":-3.886,"depth":504},{"poly":"b7","lon":-3.587,"depth":527.1},{"poly":"b7","lon":-3.33,"depth":541.8},{"poly":"b7","lon":-3.259,"depth":554.4},{"poly":"b7","lon":-3.131,"depth":556.5},{"poly":"b7","lon":-3.017,"depth":583.8},{"poly":"b7","lon":-2.875,"depth":613.2},{"poly":"b7","lon":-2.675,"depth":644.8},{"poly":"b7","lon":-2.504,"depth":615.3},{"poly":"b7","lon":-2.419,"depth":611.1},{"poly":"b7","lon":-2.362,"depth":615.3},{"poly":"b7","lon":-2.3,"depth":620},{"poly":"b7","lon":-2.1,"depth":620},{"poly":"b7","lon":-2.1,"depth":1000},{"poly":"b7","lon":-4.3,"depth":1000},{"poly":"b7","lon":-4.3,"depth":470.4},
{"poly":"b8","lon":-4.3,"depth":490},{"poly":"b8","lon":-4.247,"depth":490},{"poly":"b8","lon":-4.008,"depth":503.4},{"poly":"b8","lon":-3.567,"depth":530.2},{"poly":"b8","lon":-3.236,"depth":561.4},{"poly":"b8","lon":-2.993,"depth":608.4},{"poly":"b8","lon":-2.662,"depth":670.9},{"poly":"b8","lon":-2.419,"depth":630.7},{"poly":"b8","lon":-2.1,"depth":630.7},{"poly":"b8","lon":-2.1,"depth":1000},{"poly":"b8","lon":-4.3,"depth":1000},{"poly":"b8","lon":-4.3,"depth":490},
{"poly":"b9","lon":-4.3,"depth":503.4},{"poly":"b9","lon":-4.247,"depth":503.4},{"poly":"b9","lon":-4.185,"depth":519},{"poly":"b9","lon":-4.075,"depth":536.9},{"poly":"b9","lon":-3.788,"depth":570.4},{"poly":"b9","lon":-3.479,"depth":590.5},{"poly":"b9","lon":-3.17,"depth":617.3},{"poly":"b9","lon":-3.059,"depth":653},{"poly":"b9","lon":-2.86,"depth":686.6},{"poly":"b9","lon":-2.728,"depth":702.2},{"poly":"b9","lon":-2.662,"depth":712},{"poly":"b9","lon":-2.596,"depth":693.3},{"poly":"b9","lon":-2.419,"depth":650.8},{"poly":"b9","lon":-2.1,"depth":650.8},{"poly":"b9","lon":-2.1,"depth":1000},{"poly":"b9","lon":-4.3,"depth":1000},{"poly":"b9","lon":-4.3,"depth":503.4},
{"poly":"landl","lon":-6.2,"depth":120.6},{"poly":"landl","lon":-5.748,"depth":120.6},{"poly":"landl","lon":-5.748,"depth":170.9},{"poly":"landl","lon":-4.856,"depth":171},{"poly":"landl","lon":-4.856,"depth":221.8},{"poly":"landl","lon":-4.247,"depth":221.8},{"poly":"landl","lon":-4.247,"depth":963.6},{"poly":"landl","lon":-3.699,"depth":965},{"poly":"landl","lon":-3.699,"depth":1000},{"poly":"landl","lon":-6.2,"depth":1000},{"poly":"landl","lon":-6.2,"depth":120.6},
{"poly":"landr","lon":-2.666,"depth":1000},{"poly":"landr","lon":-2.666,"depth":718.7},{"poly":"landr","lon":-2.414,"depth":717},{"poly":"landr","lon":-2.414,"depth":616.4},{"poly":"landr","lon":-2.286,"depth":615.5},{"poly":"landr","lon":-2.286,"depth":530.6},{"poly":"landr","lon":-2.163,"depth":530.6},{"poly":"landr","lon":-2.163,"depth":423},{"poly":"landr","lon":-2.021,"depth":422},{"poly":"landr","lon":-2.021,"depth":272.2},{"poly":"landr","lon":-1.885,"depth":272.2},{"poly":"landr","lon":-1.885,"depth":151.6},{"poly":"landr","lon":-1.589,"depth":151.6},{"poly":"landr","lon":-1.589,"depth":121.5},{"poly":"landr","lon":-1.293,"depth":121.5},{"poly":"landr","lon":-1.293,"depth":103.9},{"poly":"landr","lon":-1,"depth":102.1},{"poly":"landr","lon":-1,"depth":1000},{"poly":"landr","lon":-2.666,"depth":1000},
{"poly":"spike","lon":-5.748,"depth":171},{"poly":"spike","lon":-5.748,"depth":281}
],
"iso_b":[
{"seg":"blue","lon":-4.256,"depth":470.4},{"seg":"blue","lon":-4.185,"depth":485.1},{"seg":"blue","lon":-3.929,"depth":495.6},{"seg":"blue","lon":-3.886,"depth":504},{"seg":"blue","lon":-3.587,"depth":527.1},{"seg":"blue","lon":-3.33,"depth":541.8},{"seg":"blue","lon":-3.259,"depth":554.4},{"seg":"blue","lon":-3.131,"depth":556.5},{"seg":"blue","lon":-3.017,"depth":583.8},{"seg":"blue","lon":-2.875,"depth":613.2},{"seg":"blue","lon":-2.675,"depth":644.8},{"seg":"blue","lon":-2.504,"depth":615.3},{"seg":"blue","lon":-2.419,"depth":611.1},{"seg":"blue","lon":-2.362,"depth":615.3},
{"seg":"black1","lon":-2.818,"depth":0},{"seg":"black1","lon":-2.832,"depth":23.4},{"seg":"black1","lon":-2.803,"depth":40.2},{"seg":"black1","lon":-2.795,"depth":59.1},{"seg":"black1","lon":-2.647,"depth":63.3},{"seg":"black1","lon":-2.584,"depth":59.1},{"seg":"black1","lon":-2.59,"depth":36},{"seg":"black1","lon":-2.604,"depth":0},
{"seg":"black2","lon":-3.416,"depth":195.7},{"seg":"black2","lon":-3.16,"depth":192.3},{"seg":"black2","lon":-2.917,"depth":195.7},{"seg":"black2","lon":-2.903,"depth":212.5},{"seg":"black2","lon":-2.86,"depth":223},{"seg":"black2","lon":-2.889,"depth":246.1},{"seg":"black2","lon":-2.96,"depth":271.3},{"seg":"black2","lon":-3.031,"depth":309.2},{"seg":"black2","lon":-3.074,"depth":330.2},{"seg":"black2","lon":-3.159,"depth":347},{"seg":"black2","lon":-3.231,"depth":330.2},{"seg":"black2","lon":-3.259,"depth":309.2},{"seg":"black2","lon":-3.359,"depth":267.1},{"seg":"black2","lon":-3.473,"depth":239.8},{"seg":"black2","lon":-3.487,"depth":223},{"seg":"black2","lon":-3.402,"depth":214.6},{"seg":"black2","lon":-3.416,"depth":195.7},
{"seg":"black3","lon":-1.929,"depth":267.1},{"seg":"black3","lon":-1.934,"depth":229.3},{"seg":"black3","lon":-1.949,"depth":197.8},{"seg":"black3","lon":-2.02,"depth":174.7},{"seg":"black3","lon":-2.12,"depth":195.7},{"seg":"black3","lon":-2.148,"depth":233.5},{"seg":"black3","lon":-2.333,"depth":235.6},{"seg":"black3","lon":-2.476,"depth":252.4},{"seg":"black3","lon":-2.305,"depth":263},{"seg":"black3","lon":-2.148,"depth":271.3},{"seg":"black3","lon":-2.162,"depth":296.5},{"seg":"black3","lon":-2.233,"depth":334.4},{"seg":"black3","lon":-2.305,"depth":334.4},{"seg":"black3","lon":-2.347,"depth":288.1},{"seg":"black3","lon":-2.504,"depth":286},{"seg":"black3","lon":-2.533,"depth":313.4},{"seg":"black3","lon":-2.518,"depth":342.8},{"seg":"black3","lon":-2.39,"depth":361.1},{"seg":"black3","lon":-2.476,"depth":377.9},{"seg":"black3","lon":-2.39,"depth":413.6},{"seg":"black3","lon":-2.29,"depth":457.8},{"seg":"black3","lon":-2.282,"depth":480.9},{"seg":"black3","lon":-2.248,"depth":462},{"seg":"black3","lon":-2.177,"depth":451.5}
],
"bar":[{"s":34.8,"e":34.812},{"s":34.81,"e":34.822},{"s":34.82,"e":34.832},{"s":34.83,"e":34.842},{"s":34.84,"e":34.852},{"s":34.85,"e":34.862},{"s":34.86,"e":34.872},{"s":34.87,"e":34.882},{"s":34.88,"e":34.892},{"s":34.89,"e":34.902},{"s":34.9,"e":34.912},{"s":34.91,"e":34.922},{"s":34.92,"e":34.932},{"s":34.93,"e":34.942},{"s":34.94,"e":34.952},{"s":34.95,"e":34.962},{"s":34.96,"e":34.972},{"s":34.97,"e":34.982},{"s":34.98,"e":34.992},{"s":34.99,"e":35.002},{"s":35.0,"e":35.012},{"s":35.01,"e":35.022},{"s":35.02,"e":35.032},{"s":35.03,"e":35.042},{"s":35.04,"e":35.052},{"s":35.05,"e":35.062},{"s":35.06,"e":35.072},{"s":35.07,"e":35.082},{"s":35.08,"e":35.092},{"s":35.09,"e":35.102},{"s":35.1,"e":35.112},{"s":35.11,"e":35.122},{"s":35.12,"e":35.132},{"s":35.13,"e":35.142},{"s":35.14,"e":35.152},{"s":35.15,"e":35.162},{"s":35.16,"e":35.172},{"s":35.17,"e":35.182},{"s":35.18,"e":35.192},{"s":35.19,"e":35.202},{"s":35.2,"e":35.212},{"s":35.21,"e":35.222},{"s":35.22,"e":35.232},{"s":35.23,"e":35.242},{"s":35.24,"e":35.252},{"s":35.25,"e":35.262},{"s":35.26,"e":35.272},{"s":35.27,"e":35.282},{"s":35.28,"e":35.292},{"s":35.29,"e":35.302},{"s":35.3,"e":35.312},{"s":35.31,"e":35.322},{"s":35.32,"e":35.332},{"s":35.33,"e":35.342},{"s":35.34,"e":35.352},{"s":35.35,"e":35.362},{"s":35.36,"e":35.372},{"s":35.37,"e":35.382},{"s":35.38,"e":35.392},{"s":35.39,"e":35.4}]
},
"hconcat":[
{"bounds":"flush","spacing":1.6,"vconcat":[
 {"width":602.8,"height":173.4,"view":{"stroke":"#231f20","strokeWidth":1.6},
  "layer":[
   {"data":{"name":"sla_a"},"mark":{"type":"line","color":"#231f20","strokeWidth":3.5},
    "encoding":{"x":{"field":"lon","type":"quantitative","scale":{"domain":[-6.2,-1],"nice":false,"zero":false},"axis":{"title":null,"labels":false,"domain":false,"values":[-6,-5,-4,-3,-2],"grid":true,"gridDash":[1,7],"gridColor":"#231f20","gridWidth":1.2}},
     "y":{"field":"sla","type":"quantitative","scale":{"domain":[0,30],"nice":false},"axis":{"title":"SLA [cm]","values":[0,10,20,30],"labelPadding":20,"domain":false,"grid":true,"gridDash":[1,7],"gridColor":"#231f20","gridWidth":1.2,"titleX":-74,"titleY":87}}}},
   {"data":{"name":"sla_a"},"mark":{"type":"circle","size":290,"opacity":1,"color":"#231f20"},
    "encoding":{"x":{"field":"lon","type":"quantitative","scale":{"domain":[-6.2,-1],"nice":false,"zero":false}},
     "y":{"field":"sla","type":"quantitative","scale":{"domain":[0,30],"nice":false}}}},
   {"data":{"name":"sla_ticks"},"mark":{"type":"rule","color":"#231f20","strokeWidth":1.2},
    "encoding":{"x":{"datum":-1.069,"type":"quantitative","scale":{"domain":[-6.2,-1],"nice":false,"zero":false}},"x2":{"datum":-1},"y":{"field":"sla","type":"quantitative","scale":{"domain":[0,30],"nice":false}}}},
   {"data":{"name":"lon_ticks"},"mark":{"type":"rule","color":"#231f20","strokeWidth":1.2},
    "encoding":{"x":{"field":"lon","type":"quantitative","scale":{"domain":[-6.2,-1],"nice":false,"zero":false}},"y":{"datum":30,"type":"quantitative","scale":{"domain":[0,30],"nice":false}},"y2":{"datum":28.6}}},
   {"data":{"values":[{"lon":-6.841,"sla":36.7,"label":"(a)"}]},"mark":{"type":"text","fontSize":28,"align":"center","baseline":"middle"},
    "encoding":{"x":{"field":"lon","type":"quantitative","scale":{"domain":[-6.2,-1],"nice":false,"zero":false}},"y":{"field":"sla","type":"quantitative","scale":{"domain":[0,30],"nice":false}},"text":{"field":"label"}}},
   {"data":{"values":[{"lon":-3.6,"sla":37.0,"label":"20091012"}]},"mark":{"type":"text","fontSize":24,"align":"center","baseline":"middle"},
    "encoding":{"x":{"field":"lon","type":"quantitative","scale":{"domain":[-6.2,-1],"nice":false,"zero":false}},"y":{"field":"sla","type":"quantitative","scale":{"domain":[0,30],"nice":false}},"text":{"field":"label"}}}
  ]},
 {"width":597.6,"height":791,"view":{"stroke":"#231f20","strokeWidth":1.6},
  "layer":[
   {"data":{"name":"sec_a"},"mark":{"type":"line","stroke":"#231f20","strokeWidth":1.1,"clip":true},
    "encoding":{"x":{"field":"lon","type":"quantitative","scale":{"domain":[-6.2,-1],"nice":false,"zero":false},"axis":{"title":"Longitude","values":[-6,-5,-4,-3,-2,-1],"format":"d","labelOffset":-10,"labelPadding":23,"titleX":299,"titleY":73.6}},
     "y":{"field":"depth","type":"quantitative","scale":{"domain":[0,998],"reverse":true,"nice":false},"axis":{"title":"Depth [m]","values":[100,200,300,400,500,600,700,800,900],"labelPadding":20,"titleX":-91.5,"titleY":395}},
     "detail":{"field":"poly"},"order":{"value":null},
     "fill":{"field":"poly","type":"nominal","legend":null,"scale":{"domain":["box","corner","blob1","dd2","spot1","bf1","dd3","dark1","p1","p2","col","ys1","ys2","p3","p4","p5","p6","p7","p8","p9","landl","landr","spike"],"range":["#ef5a39","#f57f4a","#dd3629","#dd3629","#ef5a39","#bf1f2a","#dd3629","#a51c26","#f57f4a","#f9a35e","#fdbb6d","#fddb87","#fddb87","#fdbb6d","#fddb87","#c2e7f3","#a5d8ea","#85bbdb","#6ca3cf","#4e81bc","#5f6062","#5f6062","#5f6062"]}}}},
   {"data":{"name":"iso_a"},"transform":[{"filter":"datum.seg === 'blue'"}],"mark":{"type":"line","color":"#3350a5","strokeWidth":5.2,"strokeJoin":"round"},
    "encoding":{"x":{"field":"lon","type":"quantitative","scale":{"domain":[-6.2,-1],"nice":false,"zero":false}},
     "y":{"field":"depth","type":"quantitative","scale":{"domain":[0,998],"reverse":true,"nice":false}},
     "order":{"value":null}}},
   {"data":{"name":"iso_a"},"transform":[{"filter":"datum.seg !== 'blue'"}],"mark":{"type":"line","color":"#231f20","strokeWidth":5.2,"strokeJoin":"round"},
    "encoding":{"x":{"field":"lon","type":"quantitative","scale":{"domain":[-6.2,-1],"nice":false,"zero":false}},
     "y":{"field":"depth","type":"quantitative","scale":{"domain":[0,998],"reverse":true,"nice":false}},
     "detail":{"field":"seg"},"order":{"value":null}}},
   {"data":{"name":"depth_ticks"},"mark":{"type":"rule","color":"#231f20","strokeWidth":1.2},
    "encoding":{"x":{"datum":-1.07,"type":"quantitative","scale":{"domain":[-6.2,-1],"nice":false,"zero":false}},"x2":{"datum":-1},"y":{"field":"depth","type":"quantitative","scale":{"domain":[0,998],"reverse":true,"nice":false}}}}
  ]}
]},
{"bounds":"flush","spacing":643.1,"hconcat":[
 {"bounds":"flush","spacing":1.4,"vconcat":[
  {"width":614.1,"height":172.6,"view":{"stroke":"#231f20","strokeWidth":1.6},
   "layer":[
    {"data":{"name":"sla_b"},"mark":{"type":"line","color":"#231f20","strokeWidth":3.5},
     "encoding":{"x":{"field":"lon","type":"quantitative","scale":{"domain":[-6.2,-1],"nice":false,"zero":false},"axis":{"title":null,"labels":false,"domain":false,"values":[-6,-5,-4,-3,-2],"grid":true,"gridDash":[1,7],"gridColor":"#231f20","gridWidth":1.2}},
      "y":{"field":"sla","type":"quantitative","scale":{"domain":[0,30],"nice":false},"axis":{"title":"SLA [cm]","values":[0,10,20,30],"labelPadding":20,"domain":false,"grid":true,"gridDash":[1,7],"gridColor":"#231f20","gridWidth":1.2,"titleX":-72,"titleY":86}}}},
    {"data":{"name":"sla_b"},"mark":{"type":"circle","size":290,"opacity":1,"color":"#231f20"},
     "encoding":{"x":{"field":"lon","type":"quantitative","scale":{"domain":[-6.2,-1],"nice":false,"zero":false}},
      "y":{"field":"sla","type":"quantitative","scale":{"domain":[0,30],"nice":false}}}},
    {"data":{"name":"sla_ticks"},"mark":{"type":"rule","color":"#231f20","strokeWidth":1.2},
     "encoding":{"x":{"datum":-1.068,"type":"quantitative","scale":{"domain":[-6.2,-1],"nice":false,"zero":false}},"x2":{"datum":-1},"y":{"field":"sla","type":"quantitative","scale":{"domain":[0,30],"nice":false}}}},
    {"data":{"name":"lon_ticks"},"mark":{"type":"rule","color":"#231f20","strokeWidth":1.2},
     "encoding":{"x":{"field":"lon","type":"quantitative","scale":{"domain":[-6.2,-1],"nice":false,"zero":false}},"y":{"datum":30,"type":"quantitative","scale":{"domain":[0,30],"nice":false}},"y2":{"datum":28.6}}},
    {"data":{"values":[{"lon":-6.411,"sla":36.7,"label":"(b)"}]},"mark":{"type":"text","fontSize":28,"align":"center","baseline":"middle"},
     "encoding":{"x":{"field":"lon","type":"quantitative","scale":{"domain":[-6.2,-1],"nice":false,"zero":false}},"y":{"field":"sla","type":"quantitative","scale":{"domain":[0,30],"nice":false}},"text":{"field":"label"}}},
    {"data":{"values":[{"lon":-3.602,"sla":37.0,"label":"20091208"}]},"mark":{"type":"text","fontSize":24,"align":"center","baseline":"middle"},
     "encoding":{"x":{"field":"lon","type":"quantitative","scale":{"domain":[-6.2,-1],"nice":false,"zero":false}},"y":{"field":"sla","type":"quantitative","scale":{"domain":[0,30],"nice":false}},"text":{"field":"label"}}}
   ]},
  {"width":609,"height":790,"view":{"stroke":"#231f20","strokeWidth":1.6},
   "layer":[
    {"data":{"name":"sec_b"},"mark":{"type":"line","stroke":"#231f20","strokeWidth":1.1,"clip":true},
     "encoding":{"x":{"field":"lon","type":"quantitative","scale":{"domain":[-6.2,-1],"nice":false,"zero":false},"axis":{"title":"Longitude","values":[-6,-5,-4,-3,-2,-1],"format":"d","labelOffset":-10,"labelPadding":23,"titleX":304,"titleY":75.6}},
      "y":{"field":"depth","type":"quantitative","scale":{"domain":[0,1000],"reverse":true,"nice":false},"axis":{"title":"Depth [m]","values":[100,200,300,400,500,600,700,800,900],"labelPadding":20,"titleX":-93,"titleY":394}},
      "detail":{"field":"poly"},"order":{"value":null},
      "fill":{"field":"poly","type":"nominal","legend":null,"scale":{"domain":["box","col1","col0","col2","spotb","ddb","bfb","d1","d2","d3","tip","b1","b2","b3","b4","b5","b6","b7","b8","b9","landl","landr","spike"],"range":["#ef5a39","#f9a35e","#fdbb6d","#f57f4a","#f57f4a","#dd3629","#bf1f2a","#a51c26","#a51c26","#a51c26","#a51c26","#f57f4a","#f9a35e","#fdbb6d","#fddb87","#c2e7f3","#a5d8ea","#85bbdb","#6ca3cf","#4e81bc","#5f6062","#5f6062","#5f6062"]}}}},
    {"data":{"name":"iso_b"},"transform":[{"filter":"datum.seg === 'blue'"}],"mark":{"type":"line","color":"#3350a5","strokeWidth":5.2,"strokeJoin":"round"},
     "encoding":{"x":{"field":"lon","type":"quantitative","scale":{"domain":[-6.2,-1],"nice":false,"zero":false}},
      "y":{"field":"depth","type":"quantitative","scale":{"domain":[0,1000],"reverse":true,"nice":false}},
      "order":{"value":null}}},
    {"data":{"name":"iso_b"},"transform":[{"filter":"datum.seg !== 'blue'"}],"mark":{"type":"line","color":"#231f20","strokeWidth":5.2,"strokeJoin":"round"},
     "encoding":{"x":{"field":"lon","type":"quantitative","scale":{"domain":[-6.2,-1],"nice":false,"zero":false}},
      "y":{"field":"depth","type":"quantitative","scale":{"domain":[0,1000],"reverse":true,"nice":false}},
      "detail":{"field":"seg"},"order":{"value":null}}},
    {"data":{"name":"depth_ticks"},"mark":{"type":"rule","color":"#231f20","strokeWidth":1.2},
     "encoding":{"x":{"datum":-1.068,"type":"quantitative","scale":{"domain":[-6.2,-1],"nice":false,"zero":false}},"x2":{"datum":-1},"y":{"field":"depth","type":"quantitative","scale":{"domain":[0,1000],"reverse":true,"nice":false}}}}
   ]}
 ]},
 {"width":37,"height":965.8,
  "layer":[
   {"data":{"name":"bar"},"mark":{"type":"rect"},
    "encoding":{"y":{"field":"s","type":"quantitative","scale":{"domain":[34.8,35.5905],"nice":false,"zero":false}},"y2":{"field":"e"},
     "fill":{"field":"s","type":"quantitative","legend":null,"scale":{"domain":[34.8,34.85,34.9,34.95,35,35.05,35.0999,35.1,35.15,35.2,35.25,35.3,35.35,35.4],"range":["#2b3a96","#3a5aa8","#4477b8","#6ca3cf","#93c6e0","#bfe2ef","#e2f2f8","#fddb87","#fdbb6d","#f9a35e","#f0663f","#dd3629","#bf1f2a","#a51c26"]}}}},
   {"data":{"values":[{"s":34.8,"e":35.4}]},"mark":{"type":"rect","fill":null,"stroke":"#231f20","strokeWidth":1.4},
    "encoding":{"y":{"field":"s","type":"quantitative","scale":{"domain":[34.8,35.5905],"nice":false,"zero":false},"axis":{"title":null,"orient":"right","domain":false,"format":"~g","labelPadding":17,"values":[34.8,34.9,35,35.1,35.2,35.3,35.4]}},"y2":{"field":"e"}}},
   {"data":{"name":"bar_ticks"},"mark":{"type":"rule","color":"#231f20","strokeWidth":1.2},
    "encoding":{"x":{"datum":0,"type":"quantitative","scale":{"domain":[0,1],"nice":false},"axis":null},"x2":{"datum":0.2},"y":{"field":"s","type":"quantitative","scale":{"domain":[34.8,35.5905],"nice":false,"zero":false}}}},
   {"data":{"values":[{"s":35.426,"label":"Salinity"}]},"mark":{"type":"text","fontSize":24,"dx":17.5,"align":"center","baseline":"middle"},
    "encoding":{"y":{"field":"s","type":"quantitative","scale":{"domain":[34.8,35.5905],"nice":false,"zero":false}},"text":{"field":"label"}}}
  ]}
]}
]
}
